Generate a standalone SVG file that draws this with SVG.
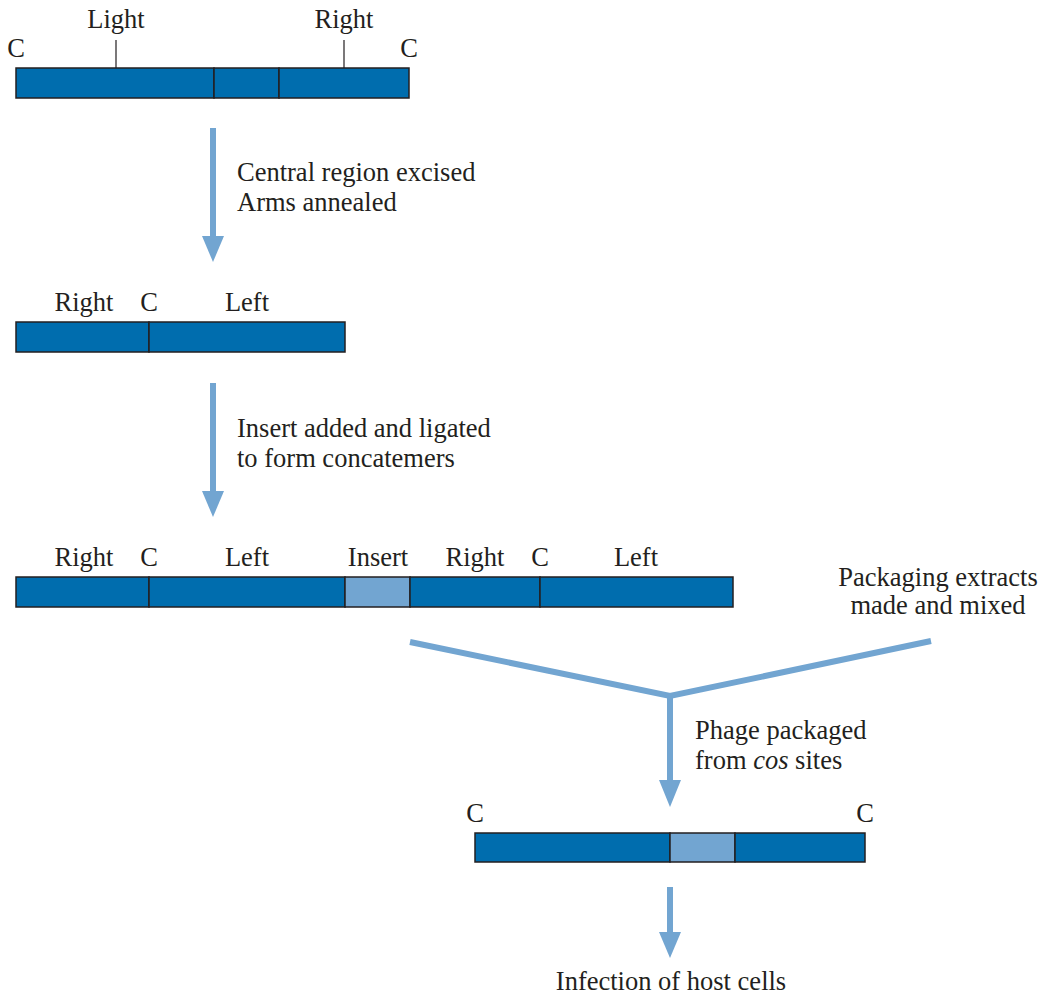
<svg xmlns="http://www.w3.org/2000/svg" width="1045" height="994" viewBox="0 0 1045 994">
<style>
text{font-family:"Liberation Serif","Times New Roman",serif;font-size:26.5px;fill:#231f20}
.m{text-anchor:middle}
.d{fill:#006dae;stroke:#231f20;stroke-width:1.5}
.l{fill:#72a5d1;stroke:#231f20;stroke-width:1.5}
.t{stroke:#231f20;stroke-width:1.2}
.a{stroke:#72a5d1;stroke-width:6;fill:none}
.h{fill:#72a5d1}
</style>
<rect width="1045" height="994" fill="#fff"/>
<g id="bar1">
<rect class="d" x="16" y="68" width="198" height="30"/>
<rect class="d" x="214" y="68" width="65" height="30"/>
<rect class="d" x="279" y="68" width="130" height="30"/>
<line class="t" x1="116" y1="40" x2="116" y2="68"/>
<line class="t" x1="344" y1="40" x2="344" y2="68"/>
<text class="m" x="116" y="28">Light</text>
<text class="m" x="344" y="28">Right</text>
<text class="m" x="16" y="57">C</text>
<text class="m" x="409" y="57">C</text>
</g>
<g id="bar2">
<rect class="d" x="16" y="322" width="133" height="30"/>
<rect class="d" x="149" y="322" width="196" height="30"/>
<text class="m" x="84" y="311">Right</text>
<text class="m" x="149" y="311">C</text>
<text class="m" x="247" y="311">Left</text>
</g>
<g id="bar3">
<rect class="d" x="16" y="577" width="133" height="30"/>
<rect class="d" x="149" y="577" width="196" height="30"/>
<rect class="l" x="345" y="577" width="65" height="30"/>
<rect class="d" x="410" y="577" width="130" height="30"/>
<rect class="d" x="540" y="577" width="193" height="30"/>
<text class="m" x="84" y="566">Right</text>
<text class="m" x="149" y="566">C</text>
<text class="m" x="247" y="566">Left</text>
<text class="m" x="378" y="566">Insert</text>
<text class="m" x="475" y="566">Right</text>
<text class="m" x="540" y="566">C</text>
<text class="m" x="636" y="566">Left</text>
</g>
<g id="extracts">
<text class="m" x="938" y="586">Packaging extracts</text>
<text class="m" x="938" y="614">made and mixed</text>
</g>
<g id="bar4">
<rect class="d" x="475" y="833" width="195" height="29"/>
<rect class="l" x="670" y="833" width="65" height="29"/>
<rect class="d" x="735" y="833" width="130" height="29"/>
<text class="m" x="475" y="822">C</text>
<text class="m" x="865" y="822">C</text>
</g>
<g id="final">
<text class="m" x="671" y="990">Infection of host cells</text>
</g>
<g id="connectors">
<line class="a" x1="213" y1="128" x2="213" y2="238"/>
<polygon class="h" points="202,236 224,236 213,262"/>
<text x="237" y="181">Central region excised</text>
<text x="237" y="211">Arms annealed</text>
<line class="a" x1="213" y1="383" x2="213" y2="493"/>
<polygon class="h" points="202,491 224,491 213,517"/>
<text x="237" y="437">Insert added and ligated</text>
<text x="237" y="467">to form concatemers</text>
<polyline class="a" points="410,642 670,696 931,641"/>
<line class="a" x1="670" y1="694" x2="670" y2="782"/>
<polygon class="h" points="659,780 681,780 670,807"/>
<text x="695" y="739">Phage packaged</text>
<text x="695" y="769">from <tspan font-style="italic">cos</tspan> sites</text>
<line class="a" x1="670" y1="887" x2="670" y2="934"/>
<polygon class="h" points="659,932 681,932 670,958"/>
</g>
</svg>
